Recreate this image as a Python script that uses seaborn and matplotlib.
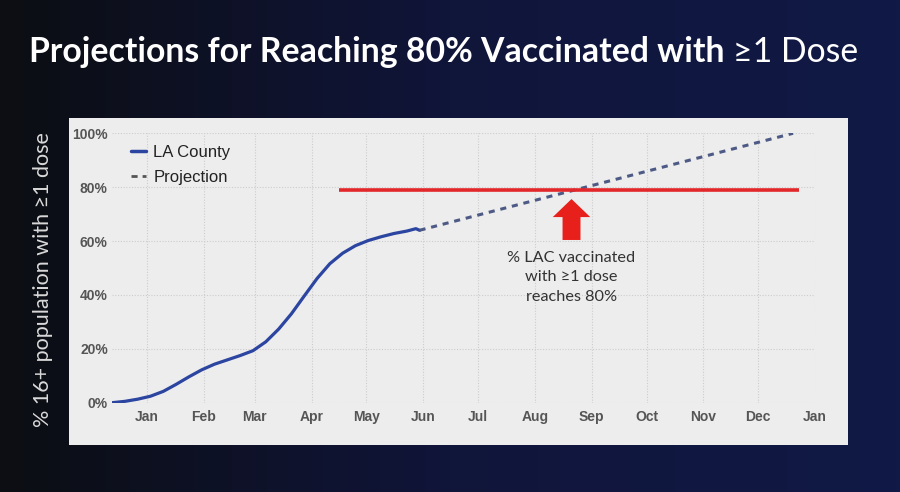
import matplotlib
matplotlib.use("Agg")
import numpy as np
import pandas as pd
import seaborn as sns
import matplotlib.pyplot as plt
import matplotlib.dates as mdates
from matplotlib.patches import Rectangle, FancyArrow
from matplotlib.colors import LinearSegmentedColormap
from matplotlib.lines import Line2D

# ---------------- data ----------------
actual_dates = ["2020-12-13", "2020-12-20", "2020-12-27", "2021-01-03", "2021-01-10",
                "2021-01-17", "2021-01-24", "2021-01-31", "2021-02-07", "2021-02-14",
                "2021-02-21", "2021-02-28", "2021-03-07", "2021-03-14", "2021-03-21",
                "2021-03-28", "2021-04-04", "2021-04-11", "2021-04-18", "2021-04-25",
                "2021-05-02", "2021-05-09", "2021-05-16", "2021-05-23", "2021-05-28",
                "2021-05-30"]
actual_pct = [0.0, 0.5, 1.3, 2.4, 4.2, 6.8, 9.6, 12.2, 14.3, 15.9, 17.5, 19.3, 22.6,
              27.3, 33.0, 39.6, 46.1, 51.6, 55.5, 58.3, 60.2, 61.6, 62.8, 63.7, 64.6, 64.0]

proj_dates = ["2021-05-30", "2021-12-20"]
proj_pct = [64.0, 100.0]

target_dates = ["2021-04-16", "2021-12-23"]
target_pct = [79.0, 79.0]

yticks = [0, 20, 40, 60, 80, 100]
ytick_labels = ["0%", "20%", "40%", "60%", "80%", "100%"]

arrow_date = "2021-08-21"
arrow_base, arrow_tip = 60.4, 75.6
note_pct = 46.5
note_text = "% LAC vaccinated\nwith \u22651 dose\nreaches 80%"

title_bold = "Projections for Reaching 80% Vaccinated with "
title_reg = "\u22651 Dose"
ylabel = "% 16+ population with \u22651 dose"

df_actual = pd.DataFrame({"date": pd.to_datetime(actual_dates), "pct": actual_pct})
df_proj = pd.DataFrame({"date": pd.to_datetime(proj_dates), "pct": proj_pct})

# ---------------- style ----------------
sns.set_theme(style="white")
plt.rcParams["font.family"] = ["Liberation Sans", "DejaVu Sans"]
LATO = ["Lato", "DejaVu Sans"]

BLUE = "#2b45a0"
PROJ = "#4d5a85"
RED = "#e2262a"

fig = plt.figure(figsize=(9, 4.92), dpi=100)

# background gradient
bg = fig.add_axes([0, 0, 1, 1], zorder=0)
bg.axis("off")
grad = np.linspace(0, 1, 256).reshape(1, -1)
cmap = LinearSegmentedColormap.from_list("bg", ["#0c0e13", "#10153a", "#111a46"])
bg.imshow(grad, aspect="auto", cmap=cmap, extent=[0, 1, 0, 1])
bg.set_xlim(0, 1)
bg.set_ylim(0, 1)
bg.add_patch(Rectangle((69 / 900, 47 / 492), 779 / 900, 327 / 492,
                       facecolor="#ededed", edgecolor="none"))

ax = fig.add_axes([112 / 900, 89.3 / 492, 703 / 900, 269.4 / 492], zorder=1)
ax.set_facecolor("none")

sns.lineplot(data=df_actual, x="date", y="pct", ax=ax, color=BLUE, lw=2.3,
             legend=False, zorder=3)
sns.lineplot(data=df_proj, x="date", y="pct", ax=ax, color=PROJ, lw=2.2,
             linestyle=(0, (2.0, 1.9)), legend=False, zorder=3)

ax.plot(pd.to_datetime(target_dates), target_pct, color=RED, lw=2.6, zorder=4,
        solid_capstyle="butt")

xa = mdates.date2num(pd.Timestamp(arrow_date))
ax.add_patch(FancyArrow(xa, arrow_base, 0, arrow_tip - arrow_base, width=9.8,
                        head_width=20.5, head_length=6.7, length_includes_head=True,
                        color="#e8201c", lw=0, zorder=5))
ax.text(pd.Timestamp(arrow_date), note_pct, note_text, ha="center", va="center",
        fontsize=11.7, family=LATO, color="#333333", linespacing=1.5)

ax.set_xlim(pd.Timestamp("2020-12-13"), pd.Timestamp("2022-01-01"))
ax.set_ylim(0, 100)
ax.xaxis.set_major_locator(mdates.MonthLocator())
ax.xaxis.set_major_formatter(mdates.DateFormatter("%b"))
ax.set_yticks(yticks)
ax.set_yticklabels(ytick_labels)
ax.set_xlabel("")
ax.set_ylabel("")
ax.tick_params(axis="both", length=0, labelsize=10, labelcolor="#555555")
ax.tick_params(axis="x", pad=5)
ax.tick_params(axis="y", pad=3)
for lab in ax.get_xticklabels() + ax.get_yticklabels():
    lab.set_fontweight("bold")
ax.grid(True, color="#cdcdcd", linestyle=(0, (1, 1.5)), lw=0.8)
for s in ax.spines.values():
    s.set_visible(False)

handles = [Line2D([], [], color=BLUE, lw=2.5),
           Line2D([], [], color="#555555", lw=2.0, linestyle=(0, (2.2, 1.8)))]
ax.legend(handles, ["LA County", "Projection"], loc="upper left",
          bbox_to_anchor=(0.027, 0.958), frameon=False, fontsize=12,
          handlelength=0.9, handletextpad=0.45, labelspacing=0.62,
          borderaxespad=0, borderpad=0, labelcolor="#222222")

# title
t1 = fig.text(29 / 900, (492 - 62) / 492, title_bold, fontsize=24.3, fontweight="bold",
              family=LATO, color="white", va="baseline", ha="left")
fig.draw_without_rendering()
ax.annotate(title_reg, xy=(1, 0), xycoords=t1, fontsize=24.3, family=LATO,
            color="white", va="bottom", ha="left", annotation_clip=False)

fig.text(43 / 900, (492 - 280) / 492, ylabel, rotation=90, ha="center", va="center",
         fontsize=15.5, family=LATO, color="#d9d9d9")

fig.savefig("out.png", dpi=100)
